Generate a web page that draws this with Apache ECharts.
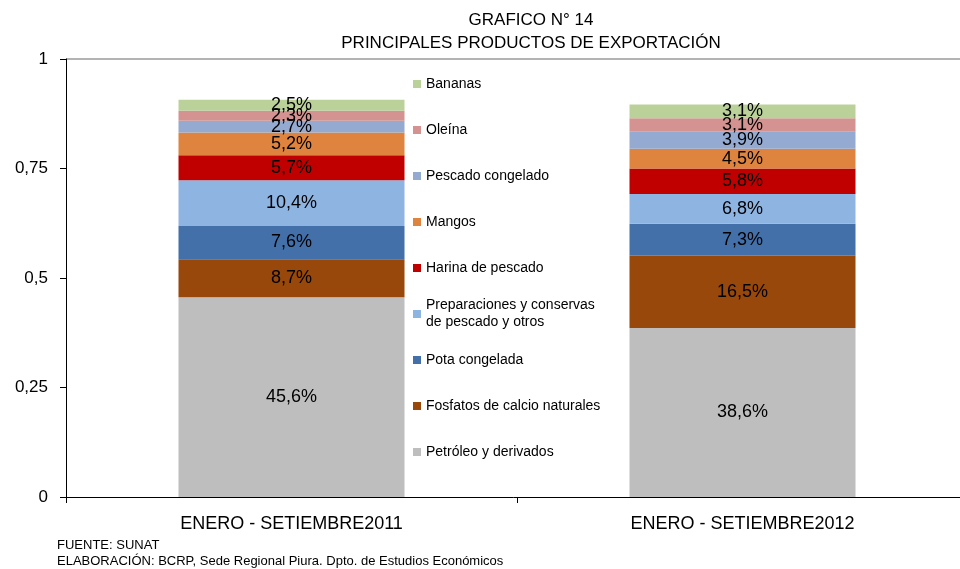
<!DOCTYPE html>
<html>
<head>
  <meta charset="utf-8">
  <title>Grafico 14 - Principales productos de exportacion</title>
  <style type="text/css">
    html, body { margin: 0; padding: 0; background: #fff; }
    #main { width: 960px; height: 569px; }
  </style>
</head>
<body>
<div id="main"></div>
<script type="text/javascript" src="https://cdn.jsdelivr.net/npm/echarts@6/dist/echarts.min.js"></script>
<script type="text/javascript">
  // datos (% del total exportado)
  var periodos = ['ENERO - SETIEMBRE2011', 'ENERO - SETIEMBRE2012'];
  var petroleo = [45.6, 38.6];
  var fosfatos = [8.7, 16.5];
  var pota = [7.6, 7.3];
  var preparaciones = [10.4, 6.8];
  var harina = [5.7, 5.8];
  var mangos = [5.2, 4.5];
  var pescadoCong = [2.7, 3.9];
  var oleina = [2.3, 3.1];
  var bananas = [2.5, 3.1];
  var yTicks = [0, 0.25, 0.5, 0.75, 1];

  var FONT = 'Liberation Sans, Arial, sans-serif';
  var PREP = 'Preparaciones y conservas de pescado y otros';

  // orden de apilado: de abajo hacia arriba
  var productos = [
    {name: 'Petróleo y derivados', data: petroleo, color: '#BEBEBE'},
    {name: 'Fosfatos de calcio naturales', data: fosfatos, color: '#97480A'},
    {name: 'Pota congelada', data: pota, color: '#4370A9'},
    {name: PREP, data: preparaciones, color: '#8EB4E2'},
    {name: 'Harina de pescado', data: harina, color: '#C00000'},
    {name: 'Mangos', data: mangos, color: '#DE843F'},
    {name: 'Pescado congelado', data: pescadoCong, color: '#94AAD1'},
    {name: 'Oleína', data: oleina, color: '#D49391'},
    {name: 'Bananas', data: bananas, color: '#BBD19A'}
  ];

  function fmt(v) {
    return (v * 100).toFixed(1).replace('.', ',') + '%';
  }

  var series = productos.map(function (p) {
    return {
      name: p.name,
      type: 'bar',
      stack: 'total',
      barWidth: 226,
      data: p.data.map(function (v) { return v / 100; }),
      itemStyle: {color: p.color},
      label: {
        show: true,
        position: 'inside',
        color: '#000',
        fontFamily: FONT,
        fontSize: 18,
        formatter: function (param) { return fmt(param.value); }
      }
    };
  });

  // leyenda: un bloque por producto, de arriba (Bananas) hacia abajo
  var legends = [];
  var orden = productos.slice().reverse();
  for (var i = 0; i < orden.length; i++) {
    var cy = 84 + 46 * i;
    var isPrep = orden[i].name === PREP;
    legends.push({
      data: [orden[i].name],
      left: 413,
      top: isPrep ? cy - 25.5 : cy - 7.5,
      padding: 0,
      itemWidth: 8,
      itemHeight: 8,
      itemGap: 0,
      icon: 'rect',
      selectedMode: false,
      formatter: function (name) {
        return name === PREP ? 'Preparaciones y conservas\nde pescado y otros' : name;
      },
      textStyle: {
        fontFamily: FONT,
        fontSize: 14,
        color: '#000',
        lineHeight: isPrep ? 17 : 15,
        padding: isPrep ? [17, 0, 0, 0] : 0
      }
    });
  }

  var myChart = echarts.init(document.getElementById('main'));
  var option = {
    backgroundColor: '#fff',
    animation: false,
    title: [
      {
        text: 'GRAFICO N° 14\nPRINCIPALES PRODUCTOS DE EXPORTACIÓN',
        left: 531,
        top: 9,
        textAlign: 'center',
        padding: 0,
        textStyle: {fontFamily: FONT, fontSize: 17, fontWeight: 'normal', color: '#000', lineHeight: 23}
      },
      {
        text: 'FUENTE: SUNAT\nELABORACIÓN: BCRP, Sede Regional Piura. Dpto. de Estudios Económicos',
        left: 57,
        top: 537,
        padding: 0,
        textStyle: {fontFamily: FONT, fontSize: 13, fontWeight: 'normal', color: '#000', lineHeight: 16}
      }
    ],
    legend: legends,
    grid: {left: 66, top: 59, width: 902, height: 438, containLabel: false, outerBoundsMode: 'none'},
    xAxis: {
      type: 'category',
      data: periodos,
      axisLine: {lineStyle: {color: '#000', width: 1}},
      axisTick: {show: true, length: 6, lineStyle: {color: '#000'}},
      axisLabel: {fontFamily: FONT, fontSize: 18, color: '#000', margin: 18}
    },
    yAxis: {
      type: 'value',
      min: yTicks[0],
      max: yTicks[yTicks.length - 1],
      interval: 0.25,
      axisLine: {show: true, lineStyle: {color: '#000', width: 1}},
      axisTick: {show: true, length: 6, lineStyle: {color: '#000'}},
      axisLabel: {
        fontFamily: FONT, fontSize: 17, color: '#000', margin: 18,
        formatter: function (v) { return String(v).replace('.', ','); }
      },
      splitLine: {
        show: true,
        lineStyle: {color: ['rgba(0,0,0,0)', 'rgba(0,0,0,0)', 'rgba(0,0,0,0)', 'rgba(0,0,0,0)', '#9A9A9A'], width: 1.5}
      }
    },
    series: series
  };
  myChart.setOption(option);
</script>
</body>
</html>
